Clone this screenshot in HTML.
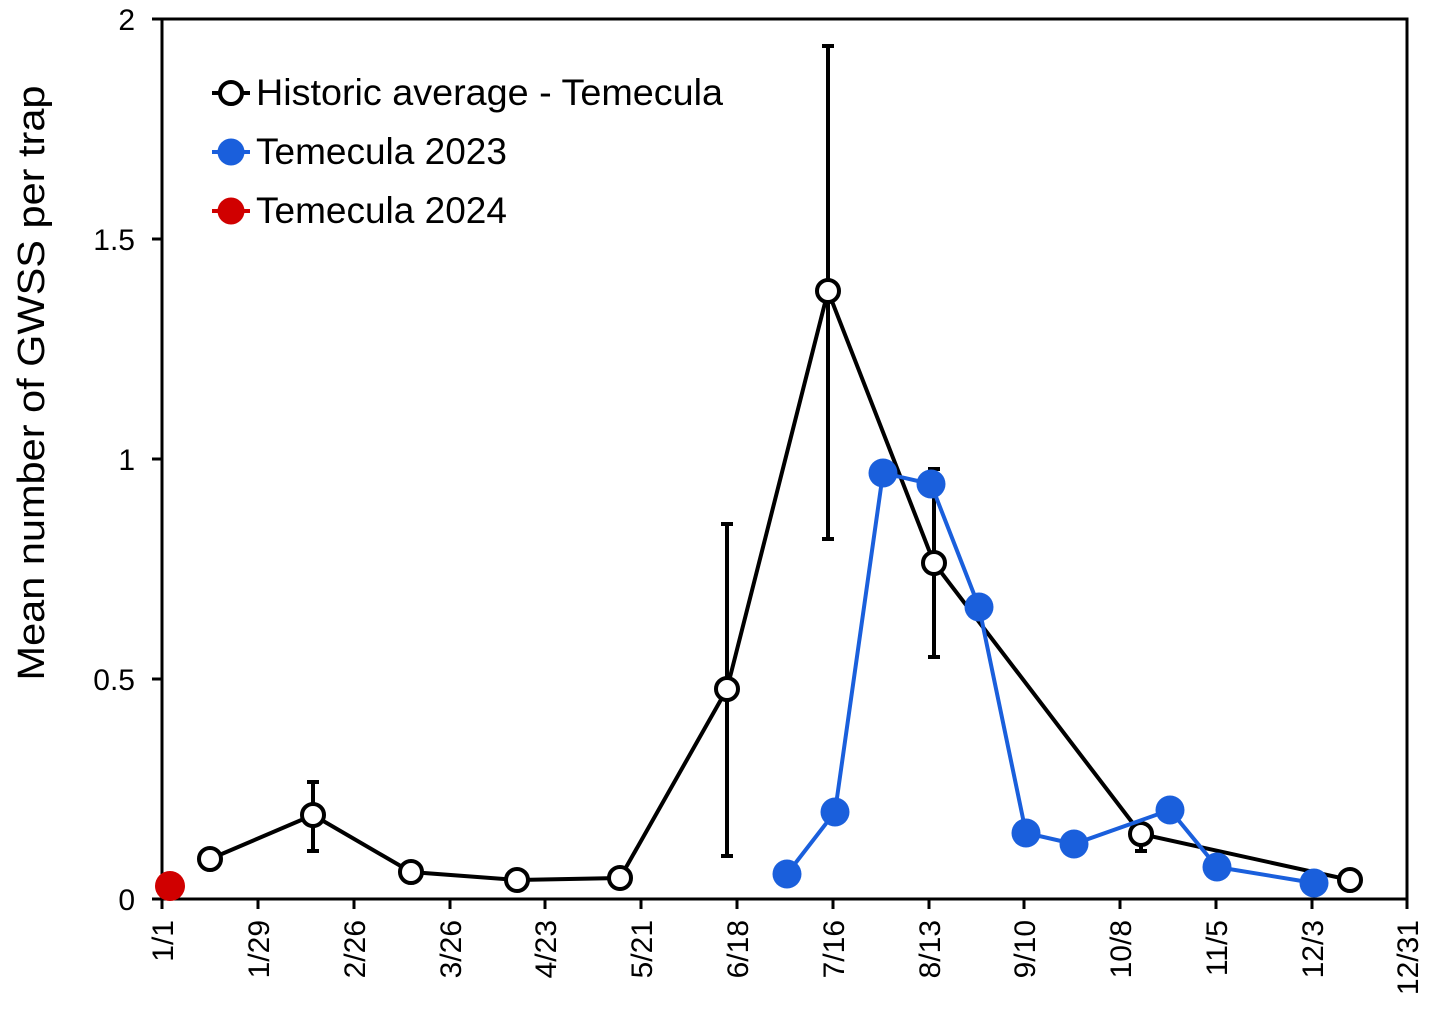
<!DOCTYPE html>
<html><head><style>body{margin:0;background:#fff}</style></head><body>
<svg width="1431" height="1019" xmlns="http://www.w3.org/2000/svg" font-family="Liberation Sans, Arial, sans-serif">
<rect x="162" y="19" width="1245" height="880" fill="none" stroke="#000" stroke-width="3"/>
<g stroke="#000" stroke-width="3">
<line x1="152" y1="19" x2="162" y2="19"/><line x1="152" y1="239" x2="162" y2="239"/><line x1="152" y1="459" x2="162" y2="459"/><line x1="152" y1="679" x2="162" y2="679"/><line x1="152" y1="899" x2="162" y2="899"/>
<line x1="162" y1="899" x2="162" y2="909"/><line x1="258" y1="899" x2="258" y2="909"/><line x1="354" y1="899" x2="354" y2="909"/><line x1="450" y1="899" x2="450" y2="909"/><line x1="545" y1="899" x2="545" y2="909"/><line x1="641" y1="899" x2="641" y2="909"/><line x1="737" y1="899" x2="737" y2="909"/><line x1="833" y1="899" x2="833" y2="909"/><line x1="929" y1="899" x2="929" y2="909"/><line x1="1024" y1="899" x2="1024" y2="909"/><line x1="1120" y1="899" x2="1120" y2="909"/><line x1="1216" y1="899" x2="1216" y2="909"/><line x1="1312" y1="899" x2="1312" y2="909"/><line x1="1407" y1="899" x2="1407" y2="909"/>
</g>
<g font-size="30" text-anchor="end">
<text x="135" y="30">2</text><text x="135" y="250">1.5</text><text x="135" y="470">1</text><text x="135" y="690">0.5</text><text x="135" y="910">0</text>
</g>
<g font-size="30" text-anchor="end">
<text transform="translate(173,920) rotate(-90)">1/1</text>
<text transform="translate(269,920) rotate(-90)">1/29</text>
<text transform="translate(365,920) rotate(-90)">2/26</text>
<text transform="translate(461,920) rotate(-90)">3/26</text>
<text transform="translate(556,920) rotate(-90)">4/23</text>
<text transform="translate(652,920) rotate(-90)">5/21</text>
<text transform="translate(748,920) rotate(-90)">6/18</text>
<text transform="translate(844,920) rotate(-90)">7/16</text>
<text transform="translate(940,920) rotate(-90)">8/13</text>
<text transform="translate(1035,920) rotate(-90)">9/10</text>
<text transform="translate(1131,920) rotate(-90)">10/8</text>
<text transform="translate(1227,920) rotate(-90)">11/5</text>
<text transform="translate(1323,920) rotate(-90)">12/3</text>
<text transform="translate(1418,920) rotate(-90)">12/31</text>
</g>
<text transform="translate(44,383) rotate(-90)" font-size="38" text-anchor="middle" textLength="595" lengthAdjust="spacingAndGlyphs">Mean number of GWSS per trap</text>
<g stroke="#000" stroke-width="4">
<line x1="313" y1="782" x2="313" y2="851"/><line x1="307" y1="782" x2="319" y2="782"/><line x1="307" y1="851" x2="319" y2="851"/>
<line x1="727" y1="524" x2="727" y2="856"/><line x1="721" y1="524" x2="733" y2="524"/><line x1="721" y1="856" x2="733" y2="856"/>
<line x1="828" y1="46" x2="828" y2="539"/><line x1="822" y1="46" x2="834" y2="46"/><line x1="822" y1="539" x2="834" y2="539"/>
<line x1="934" y1="469" x2="934" y2="657"/><line x1="928" y1="469" x2="940" y2="469"/><line x1="928" y1="657" x2="940" y2="657"/>
<line x1="1141" y1="826" x2="1141" y2="851"/><line x1="1135" y1="851" x2="1147" y2="851"/>
</g>
<polyline fill="none" stroke="#000" stroke-width="4" points="210,859 313,815 411,872 517,880 620,878 727,689 828,291 934,563 1141,834 1350,880"/>
<g fill="#fff" stroke="#000" stroke-width="4">
<circle cx="210" cy="859" r="11"/><circle cx="313" cy="815" r="11"/><circle cx="411" cy="872" r="11"/><circle cx="517" cy="880" r="11"/><circle cx="620" cy="878" r="11"/><circle cx="727" cy="689" r="11"/><circle cx="828" cy="291" r="11"/><circle cx="934" cy="563" r="11"/><circle cx="1141" cy="834" r="11"/><circle cx="1350" cy="880" r="11"/>
</g>
<polyline fill="none" stroke="#1a5fdc" stroke-width="4" points="787,874 835,812 883,473 931,484 979,607 1026,833 1074,844 1170,810 1217,867 1314,883"/>
<g fill="#1a5fdc">
<circle cx="787" cy="874" r="14.5"/><circle cx="835" cy="812" r="14.5"/><circle cx="883" cy="473" r="14.5"/><circle cx="931" cy="484" r="14.5"/><circle cx="979" cy="607" r="14.5"/><circle cx="1026" cy="833" r="14.5"/><circle cx="1074" cy="844" r="14.5"/><circle cx="1170" cy="810" r="14.5"/><circle cx="1217" cy="867" r="14.5"/><circle cx="1314" cy="883" r="14.5"/>
</g>
<circle cx="170" cy="886" r="15" fill="#d00000"/>
<line x1="212" y1="93" x2="250" y2="93" stroke="#000" stroke-width="4"/><circle cx="231" cy="93" r="11" fill="#fff" stroke="#000" stroke-width="4"/>
<line x1="212" y1="152" x2="250" y2="152" stroke="#1a5fdc" stroke-width="4"/><circle cx="231" cy="152" r="13.5" fill="#1a5fdc"/>
<line x1="212" y1="211" x2="250" y2="211" stroke="#d00000" stroke-width="4"/><circle cx="231" cy="211" r="13.5" fill="#d00000"/>
<g font-size="37"><text x="256" y="105" textLength="467" lengthAdjust="spacingAndGlyphs">Historic average - Temecula</text><text x="256" y="164">Temecula 2023</text><text x="256" y="223">Temecula 2024</text></g>
</svg>
</body></html>
